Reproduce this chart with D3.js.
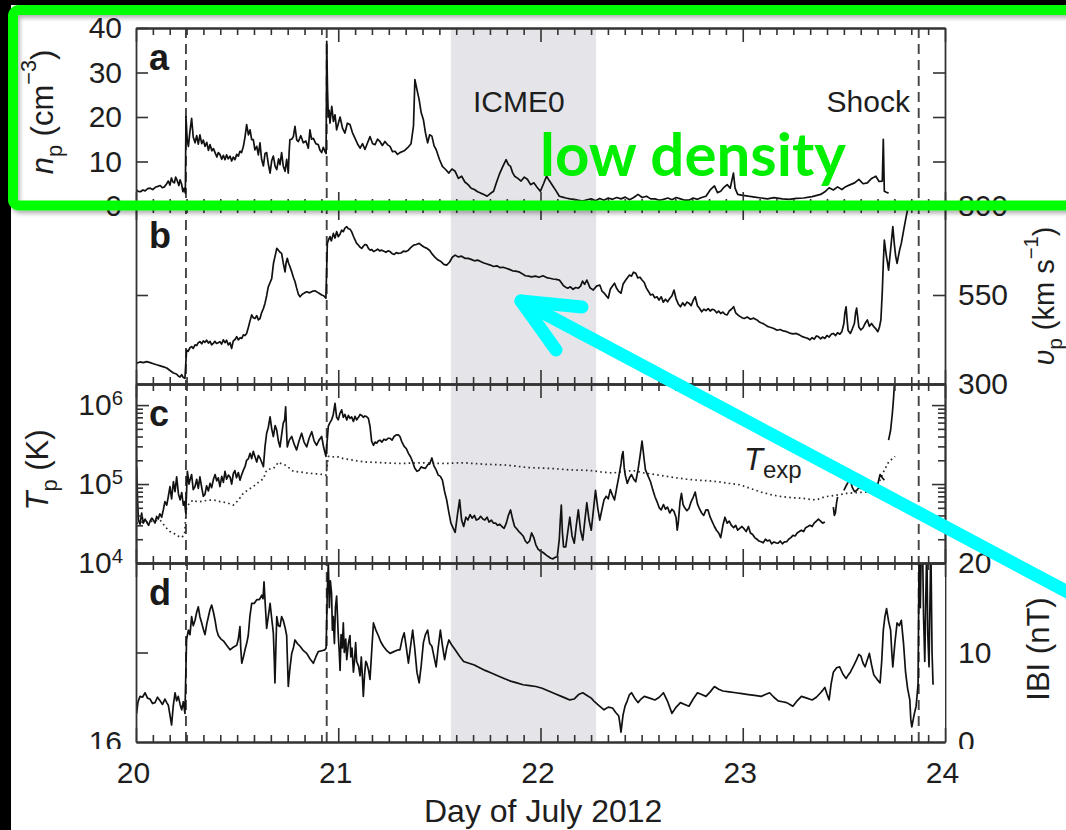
<!DOCTYPE html>
<html>
<head>
<meta charset="utf-8">
<script src="https://cdn.jsdelivr.net/npm/d3@7"></script>
<style>
html, body { margin: 0; padding: 0; background: #000; }
svg { display: block; }
text { font-family: "Liberation Sans", Arial, Helvetica, sans-serif; }
</style>
</head>
<body>
<svg id="chart" width="1066" height="830"></svg>
<script>
// ---------------------------------------------------------------
// Solar wind in situ measurements, 20-24 July 2012
// Each series: [day of July 2012, value]; null marks a data gap.
// ---------------------------------------------------------------

// proton density n_p (cm^-3)
const density = [
  [20.000,3.7],[20.011,3.3],[20.022,3.2],[20.034,3.6],[20.045,3.4],[20.058,3.9],[20.070,4.0],[20.083,3.7],[20.095,4.2],[20.108,4.4],
  [20.120,4.6],[20.130,4.1],[20.140,4.3],[20.150,4.9],[20.160,5.6],[20.168,4.7],[20.175,6.3],[20.183,5.4],[20.190,5.2],[20.196,6.5],
  [20.203,5.8],[20.212,4.6],[20.218,5.9],[20.225,5.0],[20.232,3.2],[20.238,4.0],[20.244,2.9],
  [20.247,20.1],[20.253,15.0],[20.259,13.4],[20.266,16.5],[20.275,19.7],[20.283,15.5],[20.292,14.2],[20.300,15.8],[20.308,13.9],[20.316,16.0],
  [20.325,14.0],[20.333,14.8],[20.341,13.4],[20.350,14.3],[20.358,12.5],[20.366,13.8],[20.375,12.4],[20.383,12.9],[20.391,12.0],[20.400,11.0],
  [20.407,12.0],[20.415,11.6],[20.424,10.5],[20.432,11.4],[20.440,10.4],[20.448,11.5],[20.456,10.6],[20.465,11.2],[20.473,10.1],[20.481,11.0],
  [20.489,10.4],[20.498,11.6],[20.506,11.2],[20.514,12.3],[20.522,12.0],[20.531,13.4],[20.539,15.5],[20.547,18.3],[20.556,16.0],[20.564,17.1],
  [20.572,14.9],[20.580,14.9],[20.588,12.6],[20.597,13.4],[20.605,11.5],[20.613,14.2],[20.621,10.5],[20.630,9.0],[20.638,11.8],[20.646,12.0],
  [20.654,9.5],[20.663,7.4],[20.671,10.2],[20.679,11.2],[20.688,8.9],[20.696,8.2],[20.705,10.6],[20.712,9.3],[20.720,12.0],[20.728,9.0],
  [20.737,7.8],[20.745,10.5],[20.753,7.4],[20.757,12.0],[20.761,14.9],[20.770,15.0],[20.778,15.6],[20.786,17.9],[20.795,14.8],[20.803,14.5],
  [20.815,15.8],[20.827,14.2],[20.840,14.6],[20.852,13.0],[20.860,17.1],[20.868,15.0],[20.877,15.2],[20.889,14.0],[20.901,13.8],[20.910,12.5],
  [20.918,12.0],[20.926,13.2],[20.934,12.3],[20.940,11.8],
  [20.943,37.0],[20.947,26.0],[20.951,20.0],[20.955,21.5],[20.959,18.6],[20.968,22.4],[20.976,19.0],[20.984,20.5],[20.992,17.1],[21.000,18.5],
  [21.009,20.0],[21.021,17.5],[21.033,16.4],[21.045,18.6],[21.058,18.3],[21.070,16.5],[21.083,15.2],[21.095,14.0],[21.108,13.0],[21.120,14.0],
  [21.132,12.7],[21.145,14.2],[21.157,15.6],[21.170,14.0],[21.182,13.8],[21.194,15.0],[21.206,14.5],[21.218,13.6],[21.231,14.5],[21.243,13.8],
  [21.256,13.4],[21.268,12.2],[21.281,12.3],[21.293,11.6],[21.305,12.0],[21.326,12.4],[21.347,13.3],[21.360,14.0],[21.372,18.0],[21.379,28.4],
  [21.390,26.0],[21.400,23.9],[21.410,21.0],[21.421,19.4],[21.431,16.5],[21.442,14.2],[21.452,16.0],[21.463,15.7],[21.474,13.5],[21.484,12.7],
  [21.500,10.5],[21.515,8.9],[21.531,8.2],[21.547,7.4],[21.562,8.3],[21.578,7.8],[21.594,6.2],[21.610,6.7],[21.626,5.4],[21.642,4.8],
  [21.657,4.0],[21.673,3.7],[21.689,3.2],[21.704,2.9],[21.720,2.6],[21.736,2.2],[21.752,2.8],[21.768,3.3],[21.784,5.5],[21.799,7.4],
  [21.815,9.0],[21.830,10.4],[21.841,9.3],[21.852,8.9],[21.862,7.5],[21.872,6.7],[21.888,6.2],[21.904,5.6],[21.920,6.5],[21.935,6.0],
  [21.951,4.8],[21.967,5.2],[21.983,4.2],[21.999,3.3],[22.015,5.0],[22.030,6.7],[22.045,5.6],[22.061,4.5],[22.077,3.4],[22.093,2.2],
  [22.109,2.0],[22.125,1.8],[22.146,1.6],[22.167,1.5],[22.188,1.3],[22.209,1.1],[22.230,1.4],[22.251,1.6],[22.272,1.2],[22.293,1.7],
  [22.314,1.3],[22.335,1.8],[22.356,1.5],[22.377,1.9],[22.398,1.6],[22.419,2.0],[22.440,1.4],[22.461,1.9],[22.482,2.6],[22.503,1.9],
  [22.524,2.2],[22.545,1.6],[22.566,1.6],[22.587,1.3],[22.608,1.5],[22.630,1.8],[22.650,1.4],[22.671,1.9],[22.692,1.6],[22.713,1.3],
  [22.734,1.3],[22.755,1.8],[22.776,1.5],[22.797,1.9],[22.818,2.2],[22.839,3.6],[22.860,4.5],[22.875,3.0],[22.891,3.3],[22.907,4.2],
  [22.923,4.8],[22.938,4.0],[22.954,7.4],[22.962,4.0],[22.975,2.6],[23.000,2.4],[23.027,2.2],[23.059,2.0],[23.091,1.8],[23.122,1.6],
  [23.154,1.9],[23.196,1.6],[23.230,1.5],[23.265,1.7],[23.301,1.8],[23.343,2.1],[23.385,2.6],[23.406,3.2],[23.427,4.1],[23.448,3.6],
  [23.469,4.3],[23.490,3.7],[23.511,4.4],[23.532,4.8],[23.553,5.2],[23.574,6.0],[23.595,5.0],[23.616,5.2],[23.637,6.2],[23.658,6.7],
  [23.674,5.5],[23.690,5.6],[23.695,15.0],[23.700,3.3],[23.710,3.1],[23.721,2.9]
];

// proton bulk speed v_p (km s^-1)
const velocity = [
  [20.000,358],[20.020,362],[20.036,360],[20.053,363],[20.070,360],[20.086,357],[20.102,354],[20.120,351],[20.136,348],[20.152,345],
  [20.168,338],[20.185,331],[20.200,328],[20.210,322],[20.218,320],[20.226,326],[20.234,318],[20.242,316],
  [20.250,395],[20.258,392],[20.267,402],[20.275,405],[20.283,400],[20.292,410],[20.300,408],[20.308,416],[20.316,419],[20.325,413],
  [20.333,421],[20.341,417],[20.349,423],[20.358,415],[20.366,420],[20.374,410],[20.382,414],[20.390,420],[20.398,414],[20.407,416],
  [20.415,419],[20.423,412],[20.432,424],[20.440,416],[20.448,423],[20.456,410],[20.465,416],[20.473,400],[20.481,421],[20.490,425],
  [20.498,433],[20.506,424],[20.515,430],[20.523,428],[20.531,438],[20.539,436],[20.547,442],[20.556,460],[20.564,478],[20.572,494],
  [20.580,486],[20.588,484],[20.597,492],[20.605,480],[20.613,484],[20.621,500],[20.630,512],[20.638,527],[20.646,548],[20.654,573],
  [20.663,585],[20.671,596],[20.680,640],[20.688,660],[20.696,681],[20.704,676],[20.712,670],[20.720,667],[20.728,640],[20.737,615],
  [20.742,640],[20.748,653],[20.754,640],[20.761,630],[20.770,615],[20.778,600],[20.786,588],[20.794,570],[20.803,552],[20.811,545],
  [20.822,552],[20.833,556],[20.844,559],[20.858,556],[20.871,560],[20.885,562],[20.896,558],[20.907,554],[20.918,550],[20.928,548],[20.939,541],
  [20.946,695],[20.952,705],[20.959,714],[20.966,702],[20.976,723],[20.984,710],[20.992,728],[21.000,714],[21.008,720],[21.017,732],
  [21.025,728],[21.033,738],[21.042,742],[21.050,736],[21.058,735],[21.066,728],[21.075,715],[21.083,705],[21.091,695],[21.100,690],
  [21.108,684],[21.116,681],[21.124,687],[21.132,692],[21.141,690],[21.150,680],[21.158,676],[21.166,678],[21.174,672],[21.185,675],
  [21.195,679],[21.205,674],[21.215,676],[21.226,673],[21.236,670],[21.246,674],[21.256,672],[21.267,666],[21.277,664],[21.287,669],
  [21.297,667],[21.310,668],[21.322,673],[21.335,672],[21.347,676],[21.360,684],[21.373,690],[21.386,692],[21.400,695],[21.413,689],
  [21.426,684],[21.439,681],[21.452,675],[21.466,664],[21.480,655],[21.494,648],[21.508,644],[21.522,636],[21.536,634],[21.550,642],
  [21.564,656],[21.578,662],[21.594,657],[21.610,659],[21.626,653],[21.642,653],[21.657,650],[21.673,646],[21.689,648],[21.704,644],
  [21.720,640],[21.736,637],[21.752,634],[21.768,630],[21.784,632],[21.799,627],[21.815,628],[21.830,625],[21.846,622],[21.862,618],
  [21.877,617],[21.893,615],[21.909,610],[21.925,604],[21.941,603],[21.956,601],[21.975,603],[21.993,600],[22.012,604],[22.030,599],
  [22.046,597],[22.062,595],[22.078,594],[22.093,592],[22.104,584],[22.114,576],[22.124,572],[22.135,569],[22.148,573],[22.161,566],
  [22.174,571],[22.187,569],[22.198,575],[22.208,589],[22.218,580],[22.229,592],[22.245,570],[22.261,564],[22.277,575],[22.293,578],
  [22.305,560],[22.314,556],[22.325,548],[22.335,541],[22.345,566],[22.356,575],[22.366,583],[22.377,568],[22.387,560],[22.398,555],
  [22.408,580],[22.419,590],[22.429,598],[22.440,606],[22.450,603],[22.460,614],[22.471,611],[22.481,598],[22.492,600],[22.502,592],
  [22.513,585],[22.523,570],[22.534,560],[22.544,550],[22.555,552],[22.565,542],[22.576,545],[22.586,536],[22.597,545],[22.607,530],
  [22.618,538],[22.628,531],[22.639,540],[22.650,548],[22.660,564],[22.670,540],[22.681,525],[22.692,517],[22.703,528],[22.713,520],
  [22.724,530],[22.734,527],[22.745,520],[22.755,535],[22.765,545],[22.776,520],[22.787,512],[22.797,503],[22.808,510],[22.818,506],
  [22.829,512],[22.839,505],[22.850,510],[22.860,508],[22.871,500],[22.881,505],[22.891,498],[22.902,502],[22.912,496],[22.923,494],
  [22.933,505],[22.944,510],[22.955,517],[22.965,500],[22.976,494],[22.986,490],[22.997,486],[23.007,484],[23.022,488],[23.038,482],
  [23.054,485],[23.070,480],[23.080,475],[23.090,472],[23.100,470],[23.111,466],[23.122,462],[23.132,460],[23.143,458],[23.154,456],
  [23.170,451],[23.185,453],[23.200,449],[23.217,447],[23.232,443],[23.248,441],[23.264,442],[23.280,438],[23.295,433],[23.311,430],
  [23.322,428],[23.332,424],[23.343,430],[23.353,426],[23.364,435],[23.374,433],[23.385,427],[23.395,432],[23.406,428],[23.416,436],
  [23.427,432],[23.438,440],[23.448,442],[23.459,436],[23.469,444],[23.480,440],[23.490,447],[23.500,470],[23.505,500],[23.511,517],
  [23.516,480],[23.521,450],[23.532,442],[23.542,455],[23.552,470],[23.558,500],[23.563,513],[23.568,490],[23.574,460],[23.584,452],
  [23.595,458],[23.605,470],[23.616,480],[23.626,462],[23.637,470],[23.648,461],[23.658,455],[23.668,447],[23.676,460],[23.683,480],
  [23.690,560],[23.695,640],[23.700,704],[23.710,660],[23.716,640],[23.721,620],[23.728,660],[23.735,700],[23.742,742],[23.750,690],
  [23.756,660],[23.763,639],[23.770,660],[23.777,680],[23.784,695],[23.795,730],[23.805,761],[23.815,790],[23.826,830]
];

// proton temperature T_p (K)
const temperature = [
  [20.003,1.66e5],[20.008,6.0e4],[20.012,3.5e4],[20.020,3.1e4],[20.028,4.3e4],[20.036,3.2e4],[20.045,3.6e4],[20.053,3.3e4],[20.062,3.0e4],
  [20.070,3.4e4],[20.078,3.7e4],[20.086,3.5e4],[20.094,3.2e4],[20.102,3.9e4],[20.110,3.6e4],[20.118,4.2e4],[20.127,3.8e4],[20.135,4.7e4],
  [20.143,6.0e4],[20.152,5.4e4],[20.160,7.0e4],[20.168,9.3e4],[20.176,6.5e4],[20.185,1.07e5],[20.193,8.0e4],[20.201,1.23e5],[20.210,7.5e4],
  [20.218,6.3e4],[20.226,7.8e4],[20.234,5.4e4],[20.240,6.0e4],[20.246,4.3e4],
  [20.254,1.45e5],[20.262,1.0e5],[20.270,1.2e5],[20.275,1.32e5],[20.283,8.5e4],[20.292,9.3e4],[20.300,1.15e5],[20.308,8.8e4],[20.316,1.23e5],
  [20.325,9.0e4],[20.333,7.0e4],[20.341,7.4e4],[20.349,9.5e4],[20.358,8.2e4],[20.366,1.02e5],[20.374,9.0e4],[20.383,1.15e5],[20.391,1.32e5],
  [20.399,1.1e5],[20.407,1.2e5],[20.415,9.3e4],[20.424,1.25e5],[20.432,1.05e5],[20.440,1.45e5],[20.448,1.15e5],[20.457,1.3e5],[20.465,1.23e5],
  [20.473,1.0e5],[20.481,1.35e5],[20.489,1.48e5],[20.497,1.2e5],[20.506,1.4e5],[20.514,1.12e5],[20.522,1.3e5],[20.531,1.5e5],[20.539,1.66e5],
  [20.547,2.0e5],[20.556,2.1e5],[20.564,2.45e5],[20.572,2.1e5],[20.580,2.6e5],[20.588,2.24e5],[20.597,1.9e5],[20.605,2.3e5],[20.613,2.14e5],
  [20.621,1.9e5],[20.630,1.66e5],[20.638,3.0e5],[20.646,4.4e5],[20.654,5.2e5],[20.663,7.1e5],[20.671,5.0e5],[20.679,4.0e5],[20.688,5.5e5],
  [20.696,4.8e5],[20.704,3.5e5],[20.712,2.95e5],[20.720,4.2e5],[20.728,5.9e5],[20.735,6.5e5],[20.740,9.5e5],[20.744,5.0e5],[20.748,2.95e5],
  [20.758,3.6e5],[20.770,4.0e5],[20.782,3.2e5],[20.794,2.7e5],[20.806,3.5e5],[20.819,4.4e5],[20.831,3.4e5],[20.844,2.95e5],[20.856,3.8e5],
  [20.869,4.6e5],[20.881,3.5e5],[20.893,3.1e5],[20.905,3.6e5],[20.918,4.0e5],[20.928,2.9e5],[20.939,2.24e5],
  [20.951,5.4e5],[20.959,6.0e5],[20.967,6.5e5],[20.975,7.5e5],[20.984,1.05e6],[20.992,7.0e5],[21.000,6.5e5],[21.008,7.8e5],[21.017,8.7e5],
  [21.025,7.0e5],[21.033,7.6e5],[21.042,6.5e5],[21.050,7.4e5],[21.058,6.8e5],[21.066,7.1e5],[21.075,6.2e5],[21.083,7.2e5],[21.091,6.5e5],
  [21.100,7.0e5],[21.108,7.6e5],[21.116,7.4e5],[21.124,7.0e5],[21.132,7.3e5],[21.141,7.1e5],[21.149,6.8e5],[21.157,5.4e5],[21.165,3.5e5],
  [21.174,3.1e5],[21.182,3.4e5],[21.190,3.3e5],[21.198,3.5e5],[21.206,3.6e5],[21.216,3.4e5],[21.226,3.7e5],[21.236,3.6e5],[21.246,3.8e5],
  [21.256,3.8e5],[21.266,3.6e5],[21.276,4.0e5],[21.287,4.2e5],[21.297,4.2e5],[21.305,4.0e5],[21.315,3.4e5],[21.326,3.0e5],[21.337,2.8e5],
  [21.347,2.45e5],[21.358,2.2e5],[21.368,1.9e5],[21.378,1.6e5],[21.389,1.45e5],[21.400,1.5e5],[21.410,1.65e5],[21.421,1.6e5],[21.431,1.58e5],
  [21.442,1.75e5],[21.452,1.8e5],[21.463,2.14e5],[21.473,1.7e5],[21.484,1.51e5],[21.494,1.3e5],[21.505,1.25e5],[21.515,1.12e5],[21.526,8.0e4],
  [21.536,6.3e4],[21.546,4.5e4],[21.557,3.2e4],[21.567,2.8e4],[21.578,2.45e4],[21.589,4.0e4],[21.600,6.3e4],[21.610,3.5e4],[21.620,2.9e4],
  [21.631,3.8e4],[21.641,3.5e4],[21.652,4.1e4],[21.662,3.7e4],[21.673,4.0e4],[21.683,3.5e4],[21.694,3.6e4],[21.704,3.9e4],[21.715,3.6e4],
  [21.725,3.5e4],[21.736,3.8e4],[21.746,3.3e4],[21.757,3.5e4],[21.767,3.2e4],[21.778,3.2e4],[21.788,3.0e4],[21.799,3.1e4],[21.809,2.9e4],
  [21.820,2.75e4],[21.831,3.2e4],[21.841,4.0e4],[21.852,4.7e4],[21.862,3.6e4],[21.872,2.9e4],[21.883,2.7e4],[21.893,2.5e4],[21.904,2.35e4],
  [21.914,2.2e4],[21.925,1.9e4],[21.935,1.78e4],[21.946,1.9e4],[21.956,2.4e4],[21.967,2.1e4],[21.977,1.7e4],[21.988,1.5e4],[21.998,1.42e4],
  [22.009,1.38e4],[22.019,1.32e4],[22.030,1.25e4],[22.040,1.2e4],[22.051,1.15e4],[22.062,1.13e4],[22.072,1.18e4],[22.083,1.2e4],[22.093,2.0e4],
  [22.098,3.5e4],[22.103,5.4e4],[22.108,2.5e4],[22.114,1.6e4],[22.125,1.6e4],[22.135,2.5e4],[22.145,3.8e4],[22.156,2.2e4],[22.167,1.78e4],
  [22.177,3.0e4],[22.187,4.7e4],[22.198,2.6e4],[22.209,1.95e4],[22.219,3.4e4],[22.229,5.8e4],[22.240,3.5e4],[22.251,2.6e4],[22.261,4.5e4],
  [22.272,8.3e4],[22.283,5.0e4],[22.293,3.5e4],[22.304,4.8e4],[22.314,6.3e4],[22.325,7.0e4],[22.335,6.5e4],[22.345,8.5e4],[22.356,7.2e4],
  [22.366,6.3e4],[22.377,9.0e4],[22.387,1.23e5],[22.398,1.8e5],[22.403,2.3e5],[22.408,2.57e5],[22.414,1.6e5],[22.419,1.3e5],[22.429,1.02e5],
  [22.440,1.2e5],[22.450,1.32e5],[22.461,1.15e5],[22.471,1.07e5],[22.482,1.5e5],[22.492,2.24e5],[22.497,2.8e5],[22.502,3.5e5],[22.508,2.6e5],
  [22.513,2.0e5],[22.519,1.51e5],[22.530,1.3e5],[22.544,1.07e5],[22.555,8.5e4],[22.566,6.9e4],[22.576,6.0e4],[22.587,5.0e4],[22.597,4.7e4],
  [22.608,5.5e4],[22.618,4.8e4],[22.628,5.1e4],[22.639,4.3e4],[22.650,4.8e4],[22.660,4.5e4],[22.670,3.8e4],[22.676,2.6e4],[22.681,3.2e4],
  [22.690,6.0e4],[22.697,7.6e4],[22.705,5.5e4],[22.713,5.0e4],[22.724,4.6e4],[22.734,4.9e4],[22.745,6.0e4],[22.755,6.8e4],[22.765,7.9e4],
  [22.776,5.6e4],[22.787,4.8e4],[22.797,4.3e4],[22.807,4.0e4],[22.818,4.7e4],[22.828,4.7e4],[22.839,3.8e4],[22.850,3.3e4],[22.860,2.9e4],
  [22.870,2.6e4],[22.881,2.4e4],[22.891,2.1e4],[22.902,3.0e4],[22.912,3.8e4],[22.923,3.2e4],[22.933,3.4e4],[22.944,3.0e4],[22.955,2.8e4],
  [22.965,3.0e4],[22.975,2.6e4],[22.985,2.75e4],[22.996,2.9e4],[23.007,2.7e4],[23.017,2.5e4],[23.028,2.9e4],[23.038,2.4e4],[23.049,2.3e4],
  [23.059,2.1e4],[23.070,2.0e4],[23.080,1.9e4],[23.091,1.86e4],[23.101,1.8e4],[23.112,2.0e4],[23.122,1.9e4],[23.133,1.95e4],[23.143,1.75e4],
  [23.154,1.85e4],[23.164,1.8e4],[23.175,1.78e4],[23.185,1.9e4],[23.196,1.75e4],[23.206,1.85e4],[23.217,1.86e4],[23.227,2.0e4],[23.238,2.1e4],
  [23.248,2.24e4],[23.259,2.2e4],[23.269,2.4e4],[23.280,2.5e4],[23.290,2.6e4],[23.301,2.5e4],[23.311,2.8e4],[23.322,2.9e4],[23.332,3.0e4],
  [23.343,2.9e4],[23.353,3.2e4],[23.364,3.4e4],[23.374,3.6e4],[23.385,3.4e4],[23.395,3.2e4],[23.406,3.3e4],[23.410,null],
  [23.448,5.1e4],[23.453,4.0e4],[23.458,4.3e4],[23.464,5.8e4],[23.469,6.9e4],[23.470,null],
  [23.500,8.3e4],[23.511,9.5e4],[23.521,1.05e5],[23.532,1.12e5],[23.542,9.0e4],[23.553,8.0e4],[23.563,8.3e4],[23.574,9.0e4],[23.584,8.8e4],
  [23.595,9.3e4],[23.600,null],
  [23.658,6.9e4],[23.668,1.0e5],[23.679,1.32e5],[23.690,1.2e5],[23.700,1.12e5],[23.705,null],
  [23.721,3.6e5],[23.731,4.8e5],[23.740,8.0e5],[23.746,1.26e6],[23.750,1.85e6]
];

// expected temperature T_exp (K)
const expectedTemperature = [
  [20.003,3.2e4],[20.030,3.3e4],[20.053,3.3e4],[20.086,3.4e4],[20.119,3.5e4],[20.135,3.1e4],[20.152,2.75e4],[20.168,2.5e4],[20.185,2.4e4],
  [20.205,2.2e4],[20.226,2.1e4],[20.240,2.3e4],[20.250,5.1e4],[20.267,5.8e4],[20.283,6.3e4],[20.300,6.0e4],[20.316,6.0e4],[20.349,6.2e4],
  [20.382,6.3e4],[20.415,6.0e4],[20.448,5.8e4],[20.465,5.6e4],[20.481,5.4e4],[20.505,6.2e4],[20.530,7.6e4],[20.555,8.5e4],[20.580,9.3e4],
  [20.605,1.05e5],[20.630,1.17e5],[20.646,1.51e5],[20.662,1.55e5],[20.679,1.58e5],[20.692,1.7e5],[20.704,1.9e5],[20.720,1.8e5],[20.737,1.74e5],
  [20.757,1.6e5],[20.778,1.45e5],[20.811,1.42e5],[20.844,1.38e5],[20.885,1.35e5],[20.926,1.32e5],[20.940,1.3e5],[20.951,2.24e5],[20.970,2.2e5],
  [20.992,2.24e5],[21.025,2.1e5],[21.058,2.04e5],[21.100,1.95e5],[21.140,1.9e5],[21.182,1.88e5],[21.223,1.86e5],[21.264,1.84e5],[21.305,1.82e5],
  [21.357,1.84e5],[21.410,1.86e5],[21.462,1.84e5],[21.515,1.82e5],[21.567,1.84e5],[21.620,1.86e5],[21.673,1.82e5],[21.726,1.78e5],[21.778,1.76e5],
  [21.830,1.74e5],[21.883,1.68e5],[21.935,1.62e5],[21.988,1.6e5],[22.040,1.58e5],[22.093,1.55e5],[22.145,1.51e5],[22.198,1.5e5],[22.251,1.48e5],
  [22.303,1.42e5],[22.356,1.38e5],[22.408,1.44e5],[22.460,1.48e5],[22.513,1.38e5],[22.566,1.32e5],[22.618,1.26e5],[22.671,1.2e5],[22.723,1.15e5],
  [22.776,1.12e5],[22.828,1.1e5],[22.881,1.07e5],[22.933,1.02e5],[22.985,9.8e4],[23.038,8.8e4],[23.091,7.9e4],[23.143,7.3e4],[23.196,6.9e4],
  [23.248,6.7e4],[23.301,6.6e4],[23.333,6.4e4],[23.364,6.3e4],[23.385,6.6e4],[23.406,6.9e4],[23.458,7.2e4],[23.511,7.6e4],[23.563,7.8e4],
  [23.616,7.9e4],[23.650,9.0e4],[23.679,1.12e5],[23.700,1.5e5],[23.721,1.9e5],[23.753,2.24e5]
];

// magnetic field magnitude |B| (nT)
const fieldMagnitude = [
  [20.003,3.2],[20.010,4.5],[20.020,5.1],[20.032,5.0],[20.045,5.5],[20.057,4.9],[20.069,4.8],[20.082,4.3],[20.094,4.4],[20.106,5.0],
  [20.119,4.6],[20.131,4.2],[20.143,4.8],[20.152,4.4],[20.160,4.1],[20.168,3.0],[20.176,1.9],[20.184,4.0],[20.193,5.5],[20.201,4.6],
  [20.209,5.1],[20.218,4.2],[20.226,3.6],[20.234,4.5],[20.242,3.2],
  [20.250,11.4],[20.259,12.5],[20.267,12.0],[20.275,14.0],[20.283,13.0],[20.292,13.6],[20.300,14.5],[20.308,15.1],[20.316,14.0],[20.325,13.3],
  [20.333,12.6],[20.341,12.0],[20.350,13.2],[20.358,14.0],[20.366,14.8],[20.374,15.3],[20.383,14.5],[20.391,13.6],[20.399,12.5],[20.407,11.9],
  [20.420,11.5],[20.432,11.3],[20.448,10.8],[20.465,10.3],[20.481,10.6],[20.498,10.8],[20.506,11.5],[20.514,12.9],[20.518,10.5],[20.523,8.8],
  [20.531,9.5],[20.539,10.3],[20.547,11.0],[20.555,11.9],[20.563,14.0],[20.572,15.5],[20.585,15.5],[20.597,15.9],[20.610,15.9],[20.622,16.4],
  [20.628,16.0],[20.633,17.9],[20.640,15.0],[20.646,12.7],[20.654,14.0],[20.663,15.5],[20.671,13.8],[20.679,12.2],[20.684,9.0],[20.687,6.6],
  [20.691,10.0],[20.696,14.0],[20.704,13.0],[20.712,12.9],[20.720,14.0],[20.728,13.6],[20.737,12.8],[20.745,11.9],[20.749,9.0],[20.753,6.2],
  [20.760,8.0],[20.770,9.9],[20.778,10.5],[20.786,11.4],[20.798,11.0],[20.811,10.7],[20.828,10.2],[20.844,9.9],[20.860,9.3],[20.877,8.8],
  [20.889,9.5],[20.901,10.1],[20.918,10.2],[20.934,10.3],[20.940,10.5],
  [20.946,17.0],[20.951,20.0],[20.956,15.0],[20.961,18.0],[20.967,16.6],[20.971,12.5],[20.975,14.0],[20.981,11.0],[20.986,15.0],[20.992,16.3],
  [21.000,12.0],[21.005,10.0],[21.009,8.0],[21.014,12.0],[21.020,10.5],[21.025,13.3],[21.030,10.0],[21.037,11.5],[21.042,9.2],[21.050,11.0],
  [21.058,11.9],[21.062,9.5],[21.068,10.5],[21.075,7.8],[21.080,9.0],[21.086,11.1],[21.091,9.0],[21.100,8.5],[21.108,7.4],[21.114,9.5],
  [21.120,7.0],[21.124,5.1],[21.130,7.5],[21.136,9.0],[21.141,8.8],[21.150,8.0],[21.157,7.0],[21.165,10.0],[21.174,13.3],[21.186,12.5],
  [21.198,11.9],[21.210,11.2],[21.223,10.7],[21.240,10.2],[21.256,9.9],[21.275,10.1],[21.297,10.3],[21.305,10.3],[21.316,11.5],[21.326,12.2],
  [21.337,10.5],[21.347,8.8],[21.357,10.6],[21.368,12.5],[21.378,10.5],[21.389,7.8],[21.400,6.6],[21.410,8.5],[21.421,11.1],[21.431,12.0],
  [21.442,12.5],[21.452,11.0],[21.463,10.7],[21.473,9.6],[21.484,8.4],[21.494,10.5],[21.505,12.5],[21.515,10.8],[21.526,9.2],[21.536,10.5],
  [21.547,11.4],[21.562,10.8],[21.578,10.3],[21.599,9.6],[21.620,9.0],[21.646,8.8],[21.673,8.6],[21.699,8.3],[21.726,8.0],[21.757,7.7],
  [21.788,7.4],[21.820,7.1],[21.852,6.8],[21.883,6.6],[21.914,6.4],[21.946,6.3],[21.977,6.2],[22.008,6.0],[22.040,5.7],[22.072,5.4],
  [22.103,5.1],[22.124,4.9],[22.145,4.7],[22.166,4.8],[22.188,5.3],[22.209,5.5],[22.230,5.2],[22.251,4.9],[22.267,4.5],[22.282,4.2],
  [22.298,3.9],[22.314,3.6],[22.335,3.9],[22.356,3.8],[22.372,3.3],[22.387,2.9],[22.393,2.0],[22.398,1.1],[22.408,3.0],[22.418,4.0],
  [22.429,4.6],[22.440,5.3],[22.450,5.5],[22.466,4.9],[22.482,4.4],[22.497,4.8],[22.513,5.1],[22.540,4.9],[22.566,4.7],[22.587,5.0],
  [22.608,5.5],[22.629,4.5],[22.650,3.2],[22.671,3.9],[22.692,4.4],[22.713,4.2],[22.734,4.0],[22.755,4.8],[22.776,5.5],[22.797,5.3],
  [22.818,5.1],[22.839,5.6],[22.860,6.2],[22.881,5.9],[22.902,5.7],[22.933,5.6],[22.965,5.5],[22.996,5.4],[23.028,5.3],[23.059,5.2],
  [23.091,5.1],[23.112,5.3],[23.133,5.5],[23.154,5.0],[23.175,4.6],[23.196,4.5],[23.217,4.4],[23.233,4.2],[23.248,4.0],[23.269,4.6],
  [23.290,5.1],[23.317,4.9],[23.343,4.7],[23.364,5.0],[23.385,5.5],[23.396,5.8],[23.406,6.1],[23.416,5.4],[23.427,4.7],[23.437,6.5],
  [23.448,7.8],[23.464,8.3],[23.479,8.4],[23.495,7.6],[23.511,7.1],[23.522,7.5],[23.532,7.8],[23.548,8.5],[23.563,9.2],[23.574,9.8],
  [23.584,9.6],[23.595,8.8],[23.605,8.4],[23.616,9.2],[23.626,9.9],[23.637,8.6],[23.648,7.5],[23.664,7.0],[23.679,6.6],[23.687,9.0],
  [23.695,12.5],[23.703,14.0],[23.711,14.9],[23.721,13.5],[23.731,12.5],[23.737,10.0],[23.742,8.4],[23.752,11.0],[23.763,13.3],[23.774,13.0],
  [23.784,13.6],[23.795,11.0],[23.805,7.8],[23.815,6.0],[23.826,4.7],[23.831,2.5],[23.836,1.7],[23.847,3.0],[23.857,4.0],[23.862,5.2],
  [23.867,6.6],[23.872,22],[23.878,15],[23.883,22],[23.889,22],[23.894,14],[23.900,9.0],[23.905,16],[23.910,22],[23.915,12],
  [23.921,8.4],[23.926,16],[23.930,22],[23.936,10],[23.941,6.4]
];

// event markers
const icmeInterval = [21.557, 22.275];
const boundaryDays = [20.247, 20.943, 23.870];

// tick values
const majorDays = [20, 21, 22, 23, 24];
const minorDays = d3.range(49).filter(i => i % 12 !== 0).map(i => 20 + i / 12);
const densityTicks = [0, 10, 20, 30, 40];
const speedTicks = [300, 550, 800];
const tempMajorTicks = [1e4, 1e5, 1e6];
const tempMinorTicks = [2,3,4,5,6,7,8,9].flatMap(m => [m * 1e4, m * 1e5]);
const fieldTicks = [0, 10, 20];
const panelLetters = ['a', 'b', 'c', 'd'];

// ---------------------------------------------------------------
const W = 1066, H = 830;
const X0 = 136, X1 = 945;
const TICK_FONT = 30;
const panels = [
  { top: 28,  bottom: 206 },
  { top: 206, bottom: 384 },
  { top: 384, bottom: 563 },
  { top: 563, bottom: 742 }
];

const x = d3.scaleLinear().domain([20, 24]).range([X0, X1]);
const yN = d3.scaleLinear().domain([0, 40]).range([panels[0].bottom, panels[0].top]);
const yV = d3.scaleLinear().domain([300, 800]).range([panels[1].bottom, panels[1].top]);
const yT = d3.scaleLog().domain([1e4, 1.85e6]).range([panels[2].bottom, panels[2].top]);
const yB = d3.scaleLinear().domain([0, 20]).range([panels[3].bottom, panels[3].top]);

const svg = d3.select('#chart');
const defs = svg.append('defs');

// page backdrop: dark frame with a white sheet
svg.append('rect').attr('width', W).attr('height', H).attr('fill', '#000');
svg.append('rect').attr('x', 11).attr('y', 5).attr('width', W - 11).attr('height', H - 5).attr('fill', '#fff');

panels.forEach((p, i) => {
  defs.append('clipPath').attr('id', 'clip-' + i)
    .append('rect').attr('x', X0).attr('y', p.top).attr('width', X1 - X0).attr('height', p.bottom - p.top);
});
defs.append('clipPath').attr('id', 'clip-lower')
  .append('rect').attr('x', 0).attr('y', 0).attr('width', W).attr('height', 749);

const shadow = defs.append('filter').attr('id', 'soft-shadow')
  .attr('x', '-5%').attr('y', '-20%').attr('width', '110%').attr('height', '140%');
shadow.append('feDropShadow').attr('dx', 2).attr('dy', 3).attr('stdDeviation', 2.2)
  .attr('flood-color', '#000').attr('flood-opacity', 0.3);

// ICME interval shading
svg.append('rect')
  .attr('x', x(icmeInterval[0])).attr('y', panels[0].top)
  .attr('width', x(icmeInterval[1]) - x(icmeInterval[0]))
  .attr('height', panels[3].bottom - panels[0].top)
  .attr('fill', '#e5e5e9');

// dashed boundaries
svg.append('g').selectAll('line').data(boundaryDays).join('line')
  .attr('x1', d => x(d)).attr('x2', d => x(d))
  .attr('y1', panels[0].top).attr('y2', panels[3].bottom)
  .attr('stroke', '#444').attr('stroke-width', 1.9).attr('stroke-dasharray', '10,6');

// data traces
const traces = [
  { data: density, y: yN, panel: 0 },
  { data: velocity, y: yV, panel: 1 },
  { data: expectedTemperature, y: yT, panel: 2, dotted: true },
  { data: temperature, y: yT, panel: 2 },
  { data: fieldMagnitude, y: yB, panel: 3 }
];
traces.forEach(t => {
  const gen = d3.line().defined(d => d[1] != null).x(d => x(d[0])).y(d => t.y(d[1]));
  svg.append('path')
    .attr('clip-path', `url(#clip-${t.panel})`)
    .attr('d', gen(t.data))
    .attr('fill', 'none')
    .attr('stroke', t.dotted ? '#2a2a2a' : '#111')
    .attr('stroke-width', t.dotted ? 1.7 : 1.7)
    .attr('stroke-dasharray', t.dotted ? '1.6,3.2' : null)
    .attr('stroke-linejoin', 'round');
});

// axes
function styleAxis(g) {
  g.attr('font-size', TICK_FONT).attr('font-family', null);
  g.selectAll('.domain').attr('stroke', '#333').attr('stroke-width', 1.8);
  g.selectAll('.tick line').attr('stroke', '#333').attr('stroke-width', 1.6);
  g.selectAll('.tick text').attr('fill', '#1e1e1e');
}
function addAxis(axis, tx, ty, clip) {
  const g = svg.append('g').attr('transform', `translate(${tx},${ty})`).call(axis).call(styleAxis);
  if (clip) g.attr('clip-path', clip);
  return g;
}

// time ticks on top and bottom edge of every panel, pointing inward
panels.forEach(p => {
  addAxis(d3.axisTop(x).tickValues(minorDays).tickSize(-7).tickSizeOuter(0).tickFormat(''), 0, p.top);
  addAxis(d3.axisTop(x).tickValues(majorDays).tickSize(-14).tickSizeOuter(0).tickFormat(''), 0, p.top);
  addAxis(d3.axisBottom(x).tickValues(minorDays).tickSize(-7).tickSizeOuter(0).tickFormat(''), 0, p.bottom);
  addAxis(d3.axisBottom(x).tickValues(majorDays).tickSize(-14).tickSizeOuter(0).tickFormat(''), 0, p.bottom);
});
addAxis(d3.axisBottom(x).tickValues(majorDays).tickSize(0).tickPadding(20).tickFormat(d3.format('d')), -3, panels[3].bottom)
  .select('.domain').remove();

// panel a: density
addAxis(d3.axisLeft(yN).tickValues(densityTicks).tickSize(-12).tickSizeOuter(0).tickPadding(14), X0, 0);
addAxis(d3.axisRight(yN).tickValues(densityTicks.slice(1, -1)).tickSize(-12).tickSizeOuter(0).tickFormat(''), X1, 0);

// panel b: speed
addAxis(d3.axisLeft(yV).tickValues([550]).tickSize(-12).tickSizeOuter(0).tickFormat(''), X0, 0);
addAxis(d3.axisRight(yV).tickValues(speedTicks).tickSize(-12).tickSizeOuter(0).tickPadding(13), X1, 0);

// panel c: temperature (log)
const powerLabel = g => g.selectAll('.tick text').each(function (d) {
  const t = d3.select(this).text(null);
  t.append('tspan').text('10');
  t.append('tspan').attr('dy', '-0.5em').attr('font-size', '0.68em').text(Math.round(Math.log10(d)));
});
addAxis(d3.axisLeft(yT).tickValues(tempMinorTicks).tickSize(-7).tickSizeOuter(0).tickFormat(''), X0, 0);
addAxis(d3.axisLeft(yT).tickValues(tempMajorTicks).tickSize(-13).tickSizeOuter(0).tickPadding(13), X0, 0).call(powerLabel);
addAxis(d3.axisRight(yT).tickValues(tempMinorTicks).tickSize(-7).tickSizeOuter(0).tickFormat(''), X1, 0);
addAxis(d3.axisRight(yT).tickValues(tempMajorTicks).tickSize(-13).tickSizeOuter(0).tickFormat(''), X1, 0);

// panel d: field magnitude
addAxis(d3.axisLeft(yB).tickValues([10]).tickSize(-12).tickSizeOuter(0).tickFormat(''), X0, 0);
addAxis(d3.axisRight(yB).tickValues(fieldTicks).tickSize(-12).tickSizeOuter(0).tickPadding(13), X1, 0, 'url(#clip-lower)');
svg.append('text').attr('clip-path', 'url(#clip-lower)')
  .attr('x', X0 - 14).attr('y', yB(0)).attr('dy', '0.32em')
  .attr('text-anchor', 'end').attr('font-size', TICK_FONT).attr('fill', '#1e1e1e').text('16');

// panel letters
panelLetters.forEach((l, i) => {
  svg.append('text').attr('x', 149).attr('y', panels[i].top + 42)
    .attr('font-size', 36).attr('font-weight', 'bold').attr('fill', '#1a1a1a').text(l);
});

// axis titles with sub/superscripts
function richText(parent, parts) {
  let shift = 0;
  parts.forEach(p => {
    const small = p.sub || p.sup;
    const target = p.sub ? 0.28 : p.sup ? -0.55 : 0;
    const ts = parent.append('tspan').text(p.t);
    if (small) ts.attr('font-size', '0.7em');
    // dy is expressed in the tspan's own em, so scale the offset accordingly
    const emScale = small ? 0.7 : 1;
    if (target !== shift) ts.attr('dy', ((target - shift) / emScale) + 'em');
    if (p.it) ts.attr('font-style', 'italic');
    shift = target;
  });
  return parent;
}
function rotatedTitle(cx, cy, parts, size) {
  const t = svg.append('text').attr('transform', `translate(${cx},${cy}) rotate(-90)`)
    .attr('text-anchor', 'middle').attr('font-size', size || 31).attr('fill', '#1e1e1e');
  richText(t, parts);
}
rotatedTitle(53, 112, [{ t: 'n', it: true }, { t: 'p', sub: true }, { t: ' (cm' }, { t: '−3', sup: true }, { t: ')' }]);
rotatedTitle(48, 470, [{ t: 'T', it: true }, { t: 'p', sub: true }, { t: ' (K)' }]);
rotatedTitle(1054, 296, [{ t: 'υ', it: true }, { t: 'p', sub: true }, { t: ' (km s' }, { t: '−1', sup: true }, { t: ')' }], 29);
rotatedTitle(1049, 649, [{ t: 'IBI (nT)' }]);

svg.append('text').attr('x', 424).attr('y', 822)
  .attr('font-size', 32).attr('fill', '#1e1e1e').text('Day of July 2012');

// annotations
svg.append('text').attr('x', 473).attr('y', 112).attr('font-size', 30).attr('fill', '#1e1e1e').text('ICME0');
svg.append('text').attr('x', 910).attr('y', 112).attr('text-anchor', 'end').attr('font-size', 30).attr('fill', '#1e1e1e').text('Shock');
const texp = svg.append('text').attr('x', 744).attr('y', 470).attr('fill', '#1e1e1e');
texp.append('tspan').attr('font-size', 31).attr('font-style', 'italic').text('T');
texp.append('tspan').attr('font-size', 24).attr('dy', 8).text('exp');

// highlight frame and call-outs
svg.append('rect').attr('x', 13).attr('y', 10).attr('width', 1100).attr('height', 195.5).attr('rx', 6)
  .attr('fill', 'none').attr('stroke', '#00ff00').attr('stroke-width', 10).attr('filter', 'url(#soft-shadow)');
svg.append('text').attr('x', 540).attr('y', 176)
  .style('font-family', 'Lato, "Open Sans", sans-serif').attr('font-weight', 700).attr('font-size', 60)
  .attr('fill', '#00ee00').text('low density');

const arrow = svg.append('g').attr('fill', 'none').attr('stroke', '#00ffff')
  .attr('stroke-width', 13).attr('stroke-linecap', 'round').attr('stroke-linejoin', 'round');
arrow.append('path').attr('d', 'M1092,605 L521,301');
arrow.append('path').attr('d', 'M582,307 L521,301 L556,350');
</script>
</body>
</html>
